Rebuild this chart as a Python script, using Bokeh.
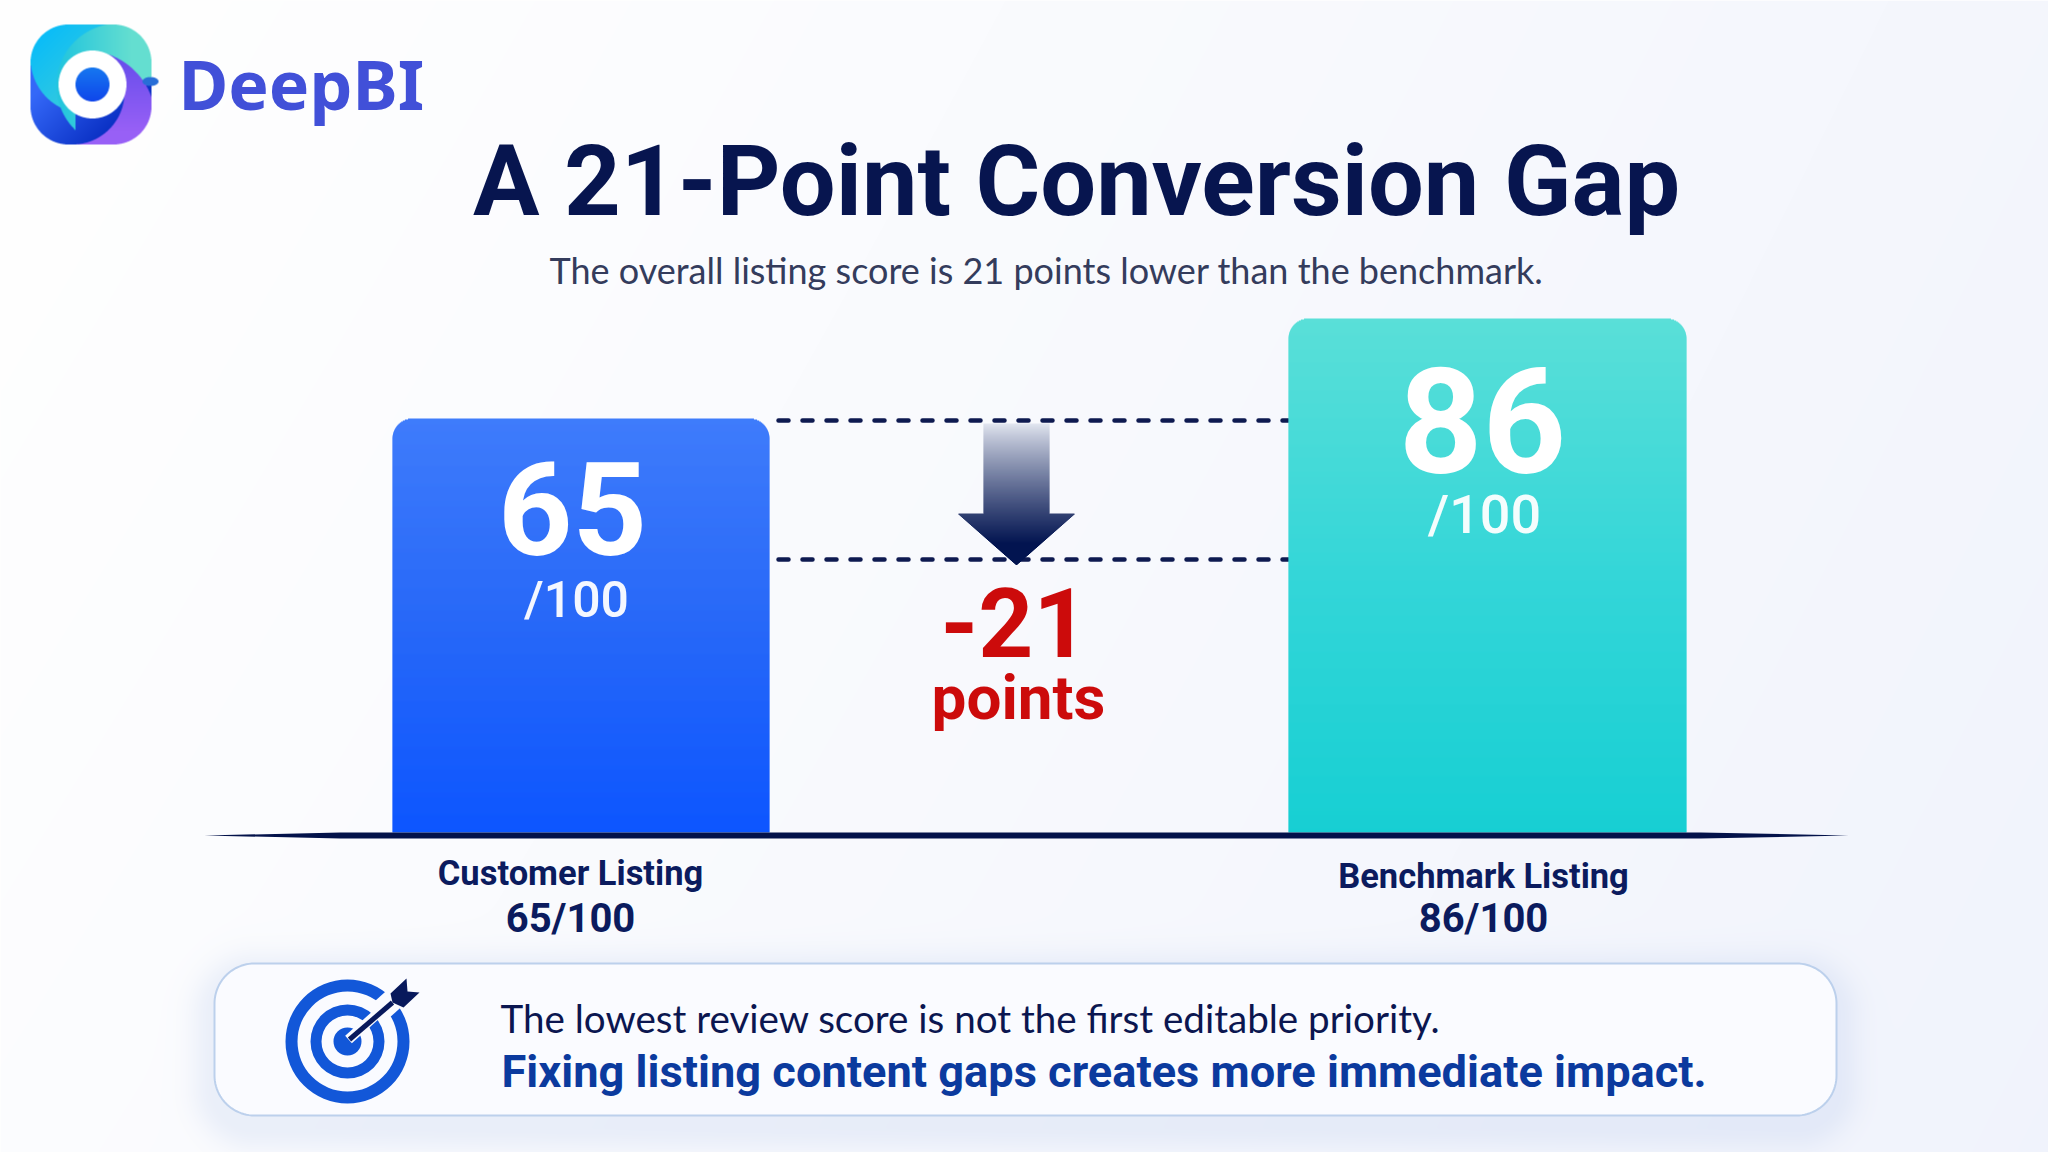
import numpy as np
from bokeh.plotting import figure
from bokeh.models import Range1d
from bokeh.core.properties import value
from bokeh.embed import file_html
from bokeh.resources import INLINE

# ---- chart data ----
listings = ["Customer Listing", "Benchmark Listing"]
scores = [65, 86]
score_scale = 100
gap_points = -21
brand = "DeepBI"
title = "A 21-Point Conversion Gap"
subtitle = "The overall listing score is 21 points lower than the benchmark."
note_lines = ["The lowest review score is not the first editable priority.",
              "Fixing listing content gaps creates more immediate impact."]

# ---- page geometry (page pixels, y measured from top of the window) ----
W, H = 2048, 1152
M = 0
def Y(y):
    return H - np.asarray(y, dtype=float)

p = figure(width=W - 2 * M, height=H - 2 * M, x_range=Range1d(M, W - M), y_range=Range1d(M, H - M),
           output_backend="svg", toolbar_location=None, x_axis_location=None, y_axis_location=None,
           min_border=0, outline_line_color=None, border_fill_color=None, background_fill_color="#ffffff")
p.grid.visible = False

# score scale: 21 score points span 100 page px, 65 sits at y=418
PX_PER_POINT = 100 / 21
SCORE_TOP_Y, BASE_Y = 418, 832
def score_at(y):
    return scores[0] + (SCORE_TOP_Y - y) / PX_PER_POINT
p.extra_y_ranges = {"score": Range1d(score_at(H - M), score_at(M))}
base_score = score_at(BASE_Y)

def lerp(a, b, t):
    return tuple(a[i] + (b[i] - a[i]) * t for i in range(3))
def hexc(c):
    return "#%02x%02x%02x" % tuple(int(round(v)) for v in c)
def rgb(h):
    return tuple(int(h[i:i + 2], 16) for i in (1, 3, 5))

def rr_dist(px, py, x0, y0, x1, y1, r):
    cx, cy = (x0 + x1) / 2, (y0 + y1) / 2
    qx = np.abs(px - cx) - (x1 - x0) / 2 + r
    qy = np.abs(py - cy) - (y1 - y0) / 2 + r
    return np.hypot(np.maximum(qx, 0), np.maximum(qy, 0)) + np.minimum(np.maximum(qx, qy), 0) - r

def to_img(arr):
    a = np.clip(arr, 0, 255).astype(np.uint8)
    img = np.zeros(a.shape[:2], dtype=np.uint32)
    view = img.view(dtype=np.uint8).reshape((a.shape[0], a.shape[1], 4))
    view[:, :, :] = a
    return np.flipud(img)

# ---- background + soft shadows ----
gy, gx = np.mgrid[M:H - M, M:W - M] + 0.5
t = np.clip(0.75 * gx / W + 0.25 * gy / H - 0.05 * (gy / H) * (gx / W), 0, 1)
c0, c1 = np.array([255, 255, 255.]), np.array([240, 243, 252.])
bg = c0[None, None] + (c1 - c0)[None, None] * (t[..., None] ** 1.1)
def shadow(bg, rect, r, off, sig, col, alpha):
    d = rr_dist(gx, gy - off, rect[0], rect[1], rect[2], rect[3], r)
    a = alpha * np.exp(-(np.maximum(d, 0) / sig) ** 2)[..., None]
    return bg * (1 - a) + np.array(col, float)[None, None] * a
BOX = (214, 963, 1836, 1115)
bg = shadow(bg, BOX, 40, 12, 24, (150, 175, 225), 0.16)
bg = np.dstack([bg, np.full(bg.shape[:2], 255.)])
p.image_rgba(image=[to_img(bg)], x=M, y=M, dw=W - 2 * M, dh=H - 2 * M)

# ---- logo (raster-shaded mark) ----
LX0, LY0, LX1, LY1 = 24, 18, 160, 152
SS = 3
ly, lx = np.mgrid[0:(LY1 - LY0) * SS, 0:(LX1 - LX0) * SS]
lx = lx / SS + LX0 + 0.5 / SS
ly = ly / SS + LY0 + 0.5 / SS
def blend(a, b, t):
    return np.array(a, float)[None, None] * (1 - t[..., None]) + np.array(b, float)[None, None] * t[..., None]
def circ(cx, cy, r):
    return np.hypot(lx - cx, ly - cy) <= r
col = blend((52, 104, 248), (10, 48, 196), np.clip((lx + ly - 130) / 110, 0, 1))
lower_right = (lx > 75) & (ly > 84)
cyan = (circ(85, 58, 55) | (ly < 65)) & ~lower_right
ccol = blend((8, 188, 250), (46, 200, 226), np.clip((lx + ly - 70) / 90, 0, 1))
col[cyan] = ccol[cyan]
teal = circ(118, 85, 62) & ~lower_right
tcol = blend((36, 198, 222), (100, 222, 208), np.clip((lx - 60) / 70, 0, 1))
col[teal] = tcol[teal]
sweep = circ(85, 120, 70) & ~circ(72, 92, 52) & (lx > 72)
pcol = blend((105, 78, 236), (152, 96, 246), np.clip((ly - 60) / 70, 0, 1))
col[sweep] = pcol[sweep]
alpha = (rr_dist(lx, ly, 30, 24, 151, 144, 38) <= 0).astype(float)
ring = circ(92, 84, 34)
col[ring] = (255, 255, 255)
alpha[ring] = 1
dot = circ(92, 84, 17)
dotc = blend((22, 120, 240), (15, 70, 235), np.clip((ly - 67) / 34, 0, 1))
col[dot] = dotc[dot]
nub = ((lx - 150) / 8) ** 2 + ((ly - 81) / 4.5) ** 2 <= 1
col[nub] = (40, 110, 215)
alpha[nub] = 1
h2, w2 = (LY1 - LY0), (LX1 - LX0)
prem = (col * alpha[..., None]).reshape(h2, SS, w2, SS, 3).mean(axis=(1, 3))
am = alpha.reshape(h2, SS, w2, SS).mean(axis=(1, 3))
logo = np.dstack([prem / np.maximum(am[..., None], 1e-3), am * 255])
p.image_rgba(image=[to_img(logo)], x=LX0, y=float(Y(LY1)), dw=w2, dh=h2)

# ---- text helper ----
BASE_K = {"Roboto": 0.30, "Roboto Medium": 0.30, "Lato": 0.30, "Noto Sans": 0.43}
def txt(x, y, s, size, color, bold=True, font="Roboto", align="center"):
    y_adj = y - BASE_K[font] * size
    p.text(x=[x], y=[float(Y(y_adj))], text=[s], text_font=value(font), text_font_size=f"{size}px",
           text_color=color, text_align=align, text_baseline="alphabetic",
           text_font_style="bold" if bold else "normal")

NAVY = "#07154f"
txt(178, 112, brand, 68, "#4150d8", font="Noto Sans", align="left")
txt(1076, 210, title, 99, NAVY)
txt(1046, 280, subtitle, 36, "#343c5c", bold=False, font="Lato")

# ---- dashed guides ----
for gy_ in (420, 559):
    p.line(x=[778, 1288], y=[float(Y(gy_))] * 2, line_color="#0e1a50", line_width=4.5,
           line_dash="10 14", line_cap="round")

# ---- bars, drawn on the score scale as gradient rows ----
BAR_EDGES = [(392, 769), (1288, 1686)]
BAR_COLORS = [[("#3f7cfb"), ("#2768f8"), ("#0d56ff")], [("#5adfd8"), ("#34d6d8"), ("#17cfd3")]]
RADIUS = 20
for (l, r), s, cols in zip(BAR_EDGES, scores, BAR_COLORS):
    n = int(round((s - base_score) * PX_PER_POINT))
    step = 1 / PX_PER_POINT
    tops = s - step * np.arange(n)
    bots = np.maximum(tops - 1.6 * step, base_score)
    lefts, rights, fills = [], [], []
    for i in range(n):
        d = i + 0.5
        ins = RADIUS - np.sqrt(max(RADIUS ** 2 - (RADIUS - d) ** 2, 0)) if d < RADIUS else 0
        lefts.append(l + ins)
        rights.append(r - ins)
        f = i / n
        c = lerp(rgb(cols[0]), rgb(cols[1]), f / 0.5) if f < 0.5 else lerp(rgb(cols[1]), rgb(cols[2]), (f - 0.5) / 0.5)
        fills.append(hexc(c))
    p.quad(left=lefts, right=rights, top=tops, bottom=bots, fill_color=fills, line_color=None,
           y_range_name="score")

# ---- baseline, tapered ----
p.patch(x=[204, 340, 1700, 1848, 1700, 340],
        y=[float(Y(835)), float(Y(832)), float(Y(832)), float(Y(835)), float(Y(838)), float(Y(838))],
        fill_color="#03124a", line_color=None)

# ---- score labels ----
txt(572, 547, str(scores[0]), 130, "#ffffff")
txt(576, 614, f"/{score_scale}", 50, "#f4f7ff", bold=False, font="Roboto Medium")
txt(1482, 464, str(scores[1]), 146, "#ffffff")
txt(1484, 530, f"/{score_scale}", 54, "#f4fdfd", bold=False, font="Roboto Medium")
txt(570, 883, listings[0], 34.5, "#0b1b5e")
txt(570, 930, f"{scores[0]}/{score_scale}", 40, "#0b1b5e")
txt(1483, 886, listings[1], 34.5, "#0b1b5e")
txt(1483, 930, f"{scores[1]}/{score_scale}", 40, "#0b1b5e")

# ---- gap arrow ----
ys = np.arange(423, 564)
xl, xr, fc = [], [], []
for y in ys:
    if y < 513:
        hw = 33
    else:
        hw = 58 * (564 - y) / 51
    xl.append(1016 - hw)
    xr.append(1016 + hw)
    tt = (y - 423) / 141
    fc.append(hexc(lerp((226, 230, 240), (2, 20, 80), min(tt / 0.85, 1) ** 0.85)))
p.quad(left=xl, right=xr, top=Y(ys), bottom=Y(ys + 1.5), fill_color=fc, line_color=None)

txt(1014, 651, f"{gap_points}", 96, "#cc0b0b")
txt(1018, 716, "points", 62, "#cc0b0b")

# ---- callout ----
def round_rect(x0, y0, x1, y1, r):
    a = np.linspace(0, np.pi / 2, 24)
    xs = np.r_[x1 - r + r * np.sin(a), x1 - r + r * np.cos(a), x0 + r - r * np.sin(a), x0 + r - r * np.cos(a)]
    ys_ = np.r_[y0 + r - r * np.cos(a), y1 - r + r * np.sin(a), y1 - r + r * np.cos(a), y0 + r - r * np.sin(a)]
    return xs, ys_
bx, by = round_rect(*BOX, 40)
p.patch(x=bx, y=Y(by), fill_color="#fafbff", line_color="#bcd0ec", line_width=2)

TC = (347, float(Y(1041)))
TB = "#1257d8"
PAPER = "#fafbff"
p.annulus(x=[TC[0]], y=[TC[1]], inner_radius=50, outer_radius=62, fill_color=TB, line_color=None)
p.annulus(x=[TC[0]], y=[TC[1]], inner_radius=26, outer_radius=37, fill_color=TB, line_color=None)
p.circle(x=[TC[0]], y=[TC[1]], radius=14, fill_color=TB, line_color=None)
p.line(x=[348, 386], y=Y([1039, 1005]), line_color=PAPER, line_width=10)
p.line(x=[376, 405], y=Y([1014, 988]), line_color=PAPER, line_width=22)
p.line(x=[349, 392], y=Y([1039, 1002]), line_color="#08195c", line_width=5)
fx = [390, 406, 407, 419, 403, 392]
fy = [993, 978, 991, 992, 1007, 1002]
p.patch(x=fx, y=Y(fy), fill_color="#08195c", line_color=None)

txt(500, 1029, note_lines[0], 38.6, "#0b1650", bold=False, font="Lato", align="left")
txt(501, 1085, note_lines[1], 45.2, "#0b3a9e", align="left")

open("out.html", "w").write(file_html(p, INLINE))
